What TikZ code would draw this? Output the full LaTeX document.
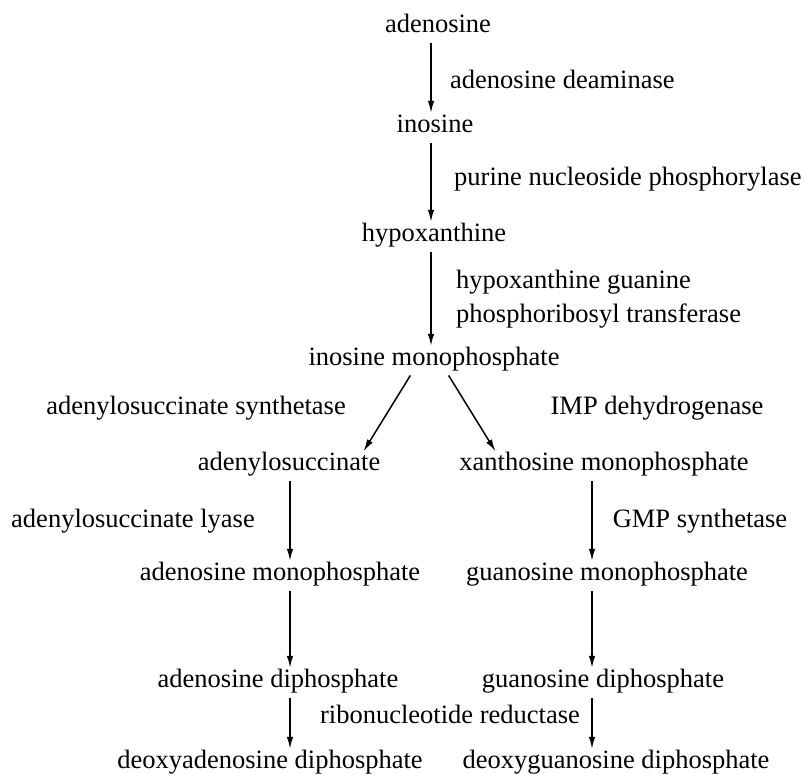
\documentclass[tikz,border=0pt]{standalone}
\usepackage{fontspec}
\setmainfont{Liberation Serif}
\usetikzlibrary{arrows.meta}
\begin{document}
\begin{tikzpicture}[x=1pt,y=1pt,
  every node/.style={inner sep=0pt,text height=17pt,text depth=5pt,font=\fontsize{26.5}{30}\selectfont},
  arr/.style={-{Latex[length=12pt,width=6.5pt]},line width=1.5pt,shorten <=5pt,shorten >=3pt}]
\useasboundingbox (0,0) rectangle (806,775);
\coordinate (c0) at (431,0);
\coordinate (cL) at (290,0);
\coordinate (cR) at (592,0);
% main chain
\node (ado) at (438,748) {adenosine};
\node (ino) at (435,648) {inosine};
\node (hyp) at (434,539) {hypoxanthine};
\node (imp) at (434,415) {inosine monophosphate};
\node (ads) at (289,310) {adenylosuccinate};
\node (xmp) at (604,310) {xanthosine monophosphate};
\node (amp) at (280,200) {adenosine monophosphate};
\node (gmp) at (607,200) {guanosine monophosphate};
\node (adp) at (278,93) {adenosine diphosphate};
\node (gdp) at (603,93) {guanosine diphosphate};
\node (dadp) at (270,12) {deoxyadenosine diphosphate};
\node (dgdp) at (616,12) {deoxyguanosine diphosphate};
% enzyme labels
\node[anchor=west] (e1) at (450,692) {adenosine deaminase};
\node[anchor=west] (e2) at (454,595) {purine nucleoside phosphorylase};
\node[anchor=west] (e3a) at (456,492) {hypoxanthine guanine};
\node[anchor=west] (e3b) at (456,458) {phosphoribosyl transferase};
\node (e4) at (196,366) {adenylosuccinate synthetase};
\node (e5) at (657,366) {IMP dehydrogenase};
\node (e6) at (133,253) {adenylosuccinate lyase};
\node (e7) at (700,253) {GMP synthetase};
\node (e8) at (450,57) {ribonucleotide reductase};
% arrows
\draw[arr] (ado.south -| c0) -- (ino.north -| c0);
\draw[arr] (ino.south -| c0) -- (hyp.north -| c0);
\draw[arr] (hyp.south -| c0) -- (imp.north -| c0);
\draw[arr] ([xshift=-21pt]imp.south) -- ([xshift=73pt]ads.north);
\draw[arr] ([xshift=12pt]imp.south) -- ([xshift=-107pt]xmp.north);
\draw[arr] (ads.south -| cL) -- (amp.north -| cL);
\draw[arr] (amp.south -| cL) -- (adp.north -| cL);
\draw[arr] (adp.south -| cL) -- (dadp.north -| cL);
\draw[arr] (xmp.south -| cR) -- (gmp.north -| cR);
\draw[arr] (gmp.south -| cR) -- (gdp.north -| cR);
\draw[arr] (gdp.south -| cR) -- (dgdp.north -| cR);
\end{tikzpicture}
\end{document}
